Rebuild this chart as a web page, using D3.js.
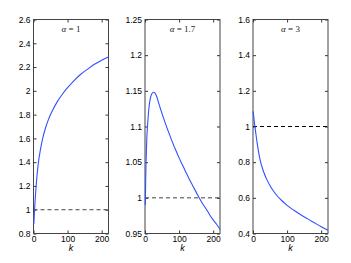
<!DOCTYPE html>
<html>
<head>
<meta charset="utf-8">
<script src="https://cdn.jsdelivr.net/npm/d3@7"></script>
<style>
  body { margin: 0; background: #fff; }
  .tick text { font-family: "Liberation Sans", Arial, sans-serif; font-size: 8.5px; fill: #000; }
  .tick line { stroke: #333; }
  .domain { display: none; }
</style>
</head>
<body>
<div id="chart"></div>
<script>
// values, one pair of arrays per panel
var kA = [1, 2, 3, 5, 8, 11, 15, 20, 27, 35, 44, 55, 69, 83, 98, 117, 137, 160, 180, 200, 220];
var vA = [0.88, 0.94, 0.995, 1.09, 1.21, 1.31, 1.41, 1.50, 1.60, 1.685, 1.76, 1.83, 1.905, 1.965, 2.02, 2.08, 2.135, 2.185, 2.225, 2.258, 2.285];

var kB = [1, 2, 3, 5, 8, 12, 16, 20, 25, 30, 35, 40, 50, 60, 70, 80, 90, 100, 110, 120, 130, 140, 150, 160, 170, 180, 190, 200, 210, 220];
var vB = [0.99, 1.025, 1.048, 1.08, 1.105, 1.128, 1.14, 1.146, 1.148, 1.1465, 1.141, 1.133, 1.118, 1.104, 1.091, 1.0785, 1.067, 1.056, 1.046, 1.036, 1.026, 1.017, 1.008, 0.999, 0.991, 0.984, 0.976, 0.969, 0.963, 0.956];

var kC = [0.5, 2, 4, 7, 10, 13, 16, 21, 30, 40, 50, 60, 70, 84, 100, 120, 140, 160, 180, 200, 220];
var vC = [1.085, 1.058, 1.024, 0.98, 0.937, 0.897, 0.861, 0.812, 0.752, 0.705, 0.668, 0.638, 0.613, 0.585, 0.558, 0.53, 0.505, 0.482, 0.46, 0.438, 0.418];

var titleValues = ["1", "1.7", "3"];
var kDomain = [0, 220];
var kTicks = [0, 100, 200];
var yDomains = [[0.8, 2.6], [0.95, 1.25], [0.4, 1.6]];
var yTicksA = [0.8, 1, 1.2, 1.4, 1.6, 1.8, 2, 2.2, 2.4, 2.6];
var yTicksB = [0.95, 1, 1.05, 1.1, 1.15, 1.2, 1.25];
var yTicksC = [0.4, 0.6, 0.8, 1, 1.2, 1.4, 1.6];
var refLevel = 1;

var panels = [
  {k: kA, v: vA, yd: yDomains[0], yt: yTicksA, title: titleValues[0], left: 33.5, dash: "#444"},
  {k: kB, v: vB, yd: yDomains[1], yt: yTicksB, title: titleValues[1], left: 145, dash: "#444"},
  {k: kC, v: vC, yd: yDomains[2], yt: yTicksC, title: titleValues[2], left: 253, dash: "#000"}
];

var plotTop = 19.5, plotH = 214, plotW = 75;

var svg = d3.select("#chart").append("svg")
    .attr("width", 351)
    .attr("height", 263)
    .style("background", "#fff");

panels.forEach(function(p){
  var g = svg.append("g").attr("transform", "translate(" + p.left + "," + plotTop + ")");

  var x = d3.scaleLinear().domain(kDomain).range([0, plotW]);
  var y = d3.scaleLinear().domain(p.yd).range([plotH, 0]);

  // inward ticks on all four sides, like matlab
  g.append("g").call(d3.axisLeft(y).tickValues(p.yt).tickFormat(d => String(d))
      .tickSizeInner(-3).tickSizeOuter(0).tickPadding(3));
  g.append("g").attr("transform", "translate(" + plotW + ",0)")
      .call(d3.axisRight(y).tickValues(p.yt).tickFormat("").tickSizeInner(-3).tickSizeOuter(0));
  g.append("g").attr("transform", "translate(0," + plotH + ")")
      .call(d3.axisBottom(x).tickValues(kTicks).tickFormat(d => String(d))
      .tickSizeInner(-3).tickSizeOuter(0).tickPadding(2));
  g.append("g")
      .call(d3.axisTop(x).tickValues(kTicks).tickFormat("").tickSizeInner(-3).tickSizeOuter(0));

  // box
  g.append("rect")
      .attr("width", plotW)
      .attr("height", plotH)
      .attr("fill", "none")
      .attr("stroke", "#444")
      .attr("stroke-width", 1);

  // dashed reference line at 1
  g.append("line")
      .attr("x1", x(kDomain[0]))
      .attr("x2", x(kDomain[1]))
      .attr("y1", y(refLevel))
      .attr("y2", y(refLevel))
      .attr("stroke", p.dash)
      .attr("stroke-width", 1)
      .attr("stroke-dasharray", "4,3");

  var pts = p.k.map(function(k, i){ return [k, p.v[i]]; });
  g.append("path")
      .datum(pts)
      .attr("fill", "none")
      .attr("stroke", "#3050ff")
      .attr("stroke-width", 1.1)
      .attr("d", d3.line().x(d => x(d[0])).y(d => y(d[1])).curve(d3.curveMonotoneX));

  var t = g.append("text")
      .attr("x", plotW / 2)
      .attr("y", 12)
      .attr("text-anchor", "middle")
      .style("font", "9px 'Liberation Serif', serif")
      .attr("fill", "#222");
  t.append("tspan").style("font-style", "italic").text("\u03b1");
  t.append("tspan").text(" = " + p.title);

  g.append("text")
      .attr("x", plotW / 2)
      .attr("y", plotH + 17)
      .attr("text-anchor", "middle")
      .style("font", "italic 9px 'Liberation Sans', Arial, sans-serif")
      .text("k");
});
</script>
</body>
</html>
